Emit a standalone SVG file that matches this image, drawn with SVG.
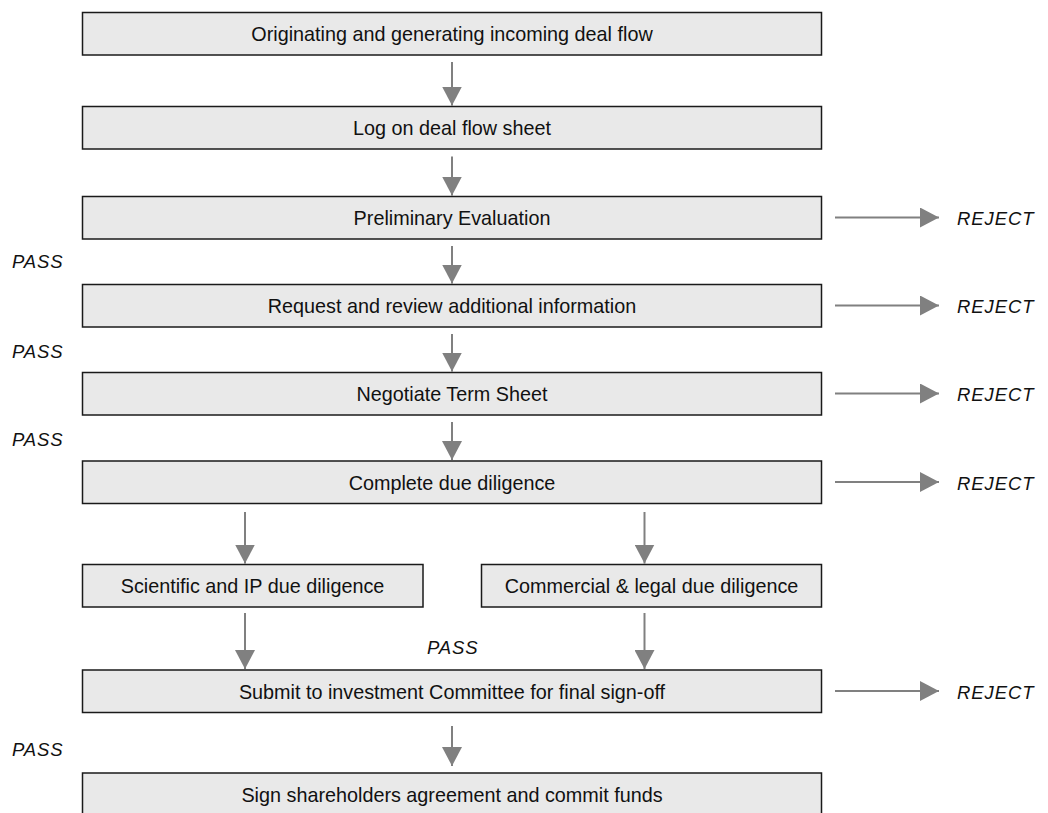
<svg xmlns="http://www.w3.org/2000/svg" width="1048" height="813" viewBox="0 0 1048 813">
<style>
  .box { fill: #e9e9e9; stroke: #1a1a1a; stroke-width: 1.5; }
  .lbl { font-family: "Liberation Sans", Arial, sans-serif; font-size: 19.8px; fill: #111; text-anchor: middle; }
  .it { font-family: "Liberation Sans", Arial, sans-serif; font-size: 18.5px; font-style: italic; fill: #111; letter-spacing: 0.9px; }
  .arr { stroke: #808080; stroke-width: 2; fill: none; marker-end: url(#head); }
</style>
<defs>
  <marker id="head" markerUnits="userSpaceOnUse" markerWidth="20" markerHeight="20" refX="19" refY="10" orient="auto">
    <path d="M0,0 L19,10 L0,20 z" fill="#808080"/>
  </marker>
</defs>
<rect width="1048" height="813" fill="#ffffff"/>

<g id="connectors">
  <line class="arr" x1="452" y1="62" x2="452" y2="105.5"/>
  <line class="arr" x1="452" y1="156.5" x2="452" y2="195.5"/>
  <line class="arr" x1="452" y1="246" x2="452" y2="283.5"/>
  <line class="arr" x1="452" y1="334" x2="452" y2="371.5"/>
  <line class="arr" x1="452" y1="422" x2="452" y2="460"/>
  <line class="arr" x1="245" y1="512" x2="245" y2="563.5"/>
  <line class="arr" x1="644.5" y1="512" x2="644.5" y2="563.5"/>
  <line class="arr" x1="245" y1="613" x2="245" y2="669"/>
  <line class="arr" x1="644.5" y1="613" x2="644.5" y2="669"/>
  <line class="arr" x1="452" y1="726" x2="452" y2="766"/>
  <line class="arr" x1="835" y1="217.5" x2="939" y2="217.5"/>
  <line class="arr" x1="835" y1="305.5" x2="939" y2="305.5"/>
  <line class="arr" x1="835" y1="393.5" x2="939" y2="393.5"/>
  <line class="arr" x1="835" y1="482" x2="939" y2="482"/>
  <line class="arr" x1="835" y1="691" x2="939" y2="691"/>
</g>

<g id="n1"><rect class="box" x="82.5" y="12.5" width="739" height="42.5"/><text class="lbl" x="452" y="41">Originating and generating incoming deal flow</text></g>
<g id="n2"><rect class="box" x="82.5" y="106.5" width="739" height="42.5"/><text class="lbl" x="452" y="135">Log on deal flow sheet</text></g>
<g id="n3"><rect class="box" x="82.5" y="196.5" width="739" height="42.5"/><text class="lbl" x="452" y="225">Preliminary Evaluation</text></g>
<g id="n4"><rect class="box" x="82.5" y="284.5" width="739" height="42.5"/><text class="lbl" x="452" y="313">Request and review additional information</text></g>
<g id="n5"><rect class="box" x="82.5" y="372.5" width="739" height="42.5"/><text class="lbl" x="452" y="401">Negotiate Term Sheet</text></g>
<g id="n6"><rect class="box" x="82.5" y="461" width="739" height="42.5"/><text class="lbl" x="452" y="489.5">Complete due diligence</text></g>
<g id="n7"><rect class="box" x="82.5" y="564.5" width="340.5" height="42.5"/><text class="lbl" x="252.5" y="593">Scientific and IP due diligence</text></g>
<g id="n8"><rect class="box" x="481.5" y="564.5" width="340" height="42.5"/><text class="lbl" x="651.5" y="593">Commercial &amp; legal due diligence</text></g>
<g id="n9"><rect class="box" x="82.5" y="670" width="739" height="42.5"/><text class="lbl" x="452" y="698.5">Submit to investment Committee for final sign-off</text></g>
<g id="n10"><rect class="box" x="82.5" y="773" width="739" height="50"/><text class="lbl" x="452" y="801.5">Sign shareholders agreement and commit funds</text></g>

<g id="labels">
  <text class="it" x="957" y="225">REJECT</text>
  <text class="it" x="957" y="313">REJECT</text>
  <text class="it" x="957" y="401">REJECT</text>
  <text class="it" x="957" y="489.5">REJECT</text>
  <text class="it" x="957" y="698.5">REJECT</text>
  <text class="it" x="12" y="268">PASS</text>
  <text class="it" x="12" y="358">PASS</text>
  <text class="it" x="12" y="446">PASS</text>
  <text class="it" x="12" y="756">PASS</text>
  <text class="it" x="427" y="654">PASS</text>
</g>
</svg>
